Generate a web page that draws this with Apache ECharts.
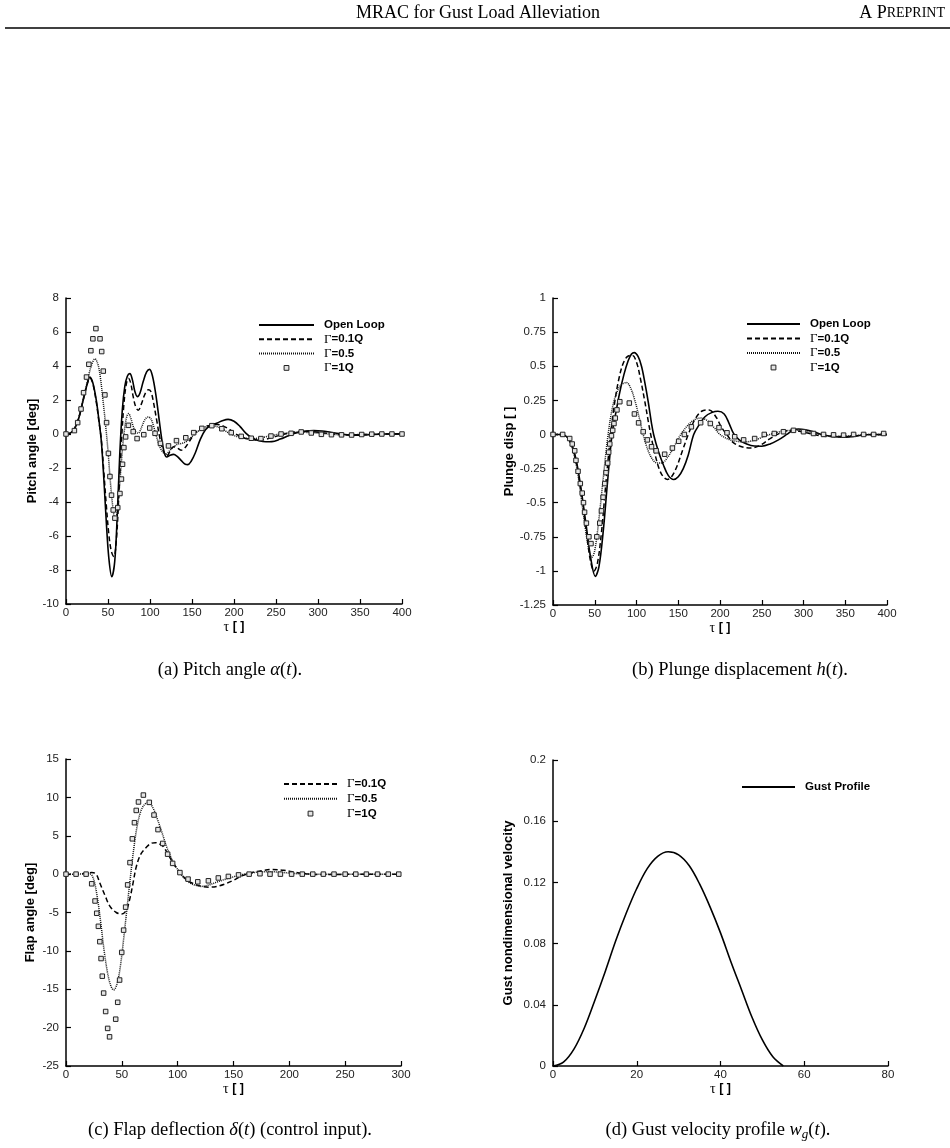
<!DOCTYPE html>
<html><head><meta charset="utf-8">
<script src="https://cdn.jsdelivr.net/npm/echarts@6/dist/echarts.min.js"></script>
<style>html,body{margin:0;padding:0;background:#fff}#c{width:950px;height:1148px}</style>
</head><body><div id="c"></div>
<script>
// ---------- (a) Pitch angle ----------
const pitchOpen = [[0,0],[5,0.05],[10,0.3],[15,0.9],[20,1.9],[25,2.9],[28.5,3.35],[32,3.0],[36,2.0],[39,0.9],[42,-0.4],[45,-2.6],[48,-5.2],[51,-7.3],[54.5,-8.4],[58,-7.5],[61,-4.8],[64,-1.2],[67,1.4],[70,2.8],[73,3.4],[76,3.55],[79,3.2],[82,2.5],[85,2.2],[88,2.4],[92,3.1],[96,3.65],[99.5,3.8],[103,3.4],[107,2.3],[111,0.8],[114,-0.3],[117,-1.1],[120,-1.35],[124,-1.25],[128,-1.2],[132,-1.3],[137,-1.55],[142,-1.78],[145,-1.8],[149,-1.6],[154,-1.1],[160,-0.3],[166,0.25],[172,0.5],[180,0.65],[187,0.8],[193,0.86],[200,0.75],[207,0.45],[214,0.05],[222,-0.25],[230,-0.4],[238,-0.46],[245,-0.45],[255,-0.3],[265,-0.1],[275,0.08],[285,0.17],[295,0.2],[305,0.18],[315,0.1],[325,0.02],[335,-0.05],[345,-0.07],[355,-0.06],[365,-0.03],[380,0],[400,0.01]];
const pitchG01 = [[0,0],[5,0.05],[10,0.3],[15,0.9],[20,1.9],[25,2.9],[28.5,3.3],[32,2.95],[36,1.9],[39,0.8],[42,-0.3],[45,-2.2],[48,-4.2],[51,-5.9],[54,-6.9],[57,-7.2],[60,-6.2],[63,-3.5],[66,-0.5],[69,1.8],[72,3.0],[74.5,3.27],[77,3.0],[80,2.2],[83,1.6],[86,1.4],[90,1.8],[94,2.35],[98,2.6],[101,2.5],[104,1.9],[108,0.8],[112,-0.3],[116,-1.0],[120,-1.3],[124,-1.0],[128,-0.75],[132,-0.8],[137,-0.95],[141,-0.85],[146,-0.5],[152,-0.05],[158,0.25],[165,0.42],[172,0.52],[180,0.56],[188,0.45],[195,0.25],[202,0],[210,-0.2],[218,-0.3],[228,-0.35],[238,-0.3],[248,-0.17],[258,-0.03],[270,0.1],[282,0.15],[292,0.14],[305,0.07],[318,0],[330,-0.05],[345,-0.05],[360,-0.02],[380,0],[400,0]];
const pitchG05 = [[0,0],[5,0.05],[10,0.3],[15,0.95],[20,1.95],[25,3.0],[30,4.0],[34.5,4.42],[38,4.1],[41,3.3],[44,2.0],[47,0.6],[50,-1.0],[53,-2.9],[56,-4.4],[58.5,-5.06],[61,-4.6],[64,-2.9],[67,-1.0],[70,0.4],[72.5,1.05],[74.5,1.2],[77,0.95],[80,0.45],[83,0.12],[86,0.05],[90,0.4],[94,0.85],[98,1.0],[101,0.9],[104,0.5],[108,-0.2],[112,-0.8],[116,-1.1],[119,-1.2],[123,-1.0],[128,-0.75],[133,-0.6],[138,-0.55],[143,-0.45],[150,-0.15],[157,0.15],[164,0.38],[170,0.47],[178,0.45],[186,0.3],[194,0.05],[202,-0.12],[212,-0.23],[222,-0.27],[232,-0.22],[242,-0.12],[255,0],[268,0.08],[280,0.1],[292,0.08],[305,0.03],[320,-0.03],[335,-0.05],[350,-0.03],[370,0],[400,0]];
const pitchG1 = [[0,0],[10,0.2],[13.9,0.67],[17.9,1.47],[20.9,2.43],[24.4,3.35],[27.2,4.1],[29.6,4.9],[32,5.6],[35.6,6.2],[40.5,5.6],[42.5,4.85],[44.4,3.7],[46.3,2.3],[48.3,0.67],[50.5,-1.14],[52.3,-2.5],[54.2,-3.6],[56.2,-4.47],[58.2,-4.95],[61.6,-4.33],[64.2,-3.5],[66,-2.65],[67.3,-1.78],[68.9,-0.8],[71,-0.17],[74.3,0.51],[80,0.14],[84.6,-0.27],[92.6,-0.04],[99.7,0.35],[106,0.04],[112.4,-0.55],[122,-0.7],[131.5,-0.39],[142.6,-0.22],[152,0.08],[161.7,0.33],[173.6,0.49],[185.5,0.31],[196.7,0.08],[208.6,-0.14],[220.5,-0.25],[232,-0.27],[244,-0.12],[256,0],[268,0.04],[280,0.12],[292,0.06],[304,-0.02],[316,-0.04],[328,-0.05],[340,-0.06],[352,-0.03],[364,-0.01],[376,0],[388,0],[400,0]];

// ---------- (b) Plunge displacement ----------
const plungeOpen = [[0,0],[10,0],[15,-0.01],[20,-0.04],[25,-0.12],[30,-0.26],[35,-0.46],[40,-0.68],[45,-0.9],[50.7,-1.04],[55,-0.97],[60,-0.72],[65,-0.37],[70.7,0],[75,0.15],[80,0.31],[85,0.44],[90,0.54],[94,0.59],[97.4,0.6],[102,0.57],[106,0.5],[110,0.38],[114,0.24],[118,0.08],[120.5,0],[126,-0.12],[132,-0.22],[138,-0.3],[144.5,-0.33],[150,-0.31],[156,-0.25],[162,-0.15],[168.5,0],[175,0.07],[182,0.13],[190,0.16],[197.6,0.17],[205,0.15],[211,0.08],[216,0.01],[223,-0.04],[232,-0.07],[241,-0.085],[250,-0.086],[260,-0.07],[270,-0.04],[280,0],[287,0.03],[294,0.04],[302,0.035],[312,0.02],[322,0],[335,-0.015],[350,-0.02],[365,-0.01],[380,0],[400,0]];
const plungeG01 = [[0,0],[10,0],[15,-0.01],[20,-0.05],[25,-0.13],[30,-0.28],[35,-0.48],[40,-0.72],[45,-0.93],[49,-1.0],[53,-0.95],[58,-0.72],[63,-0.38],[69,0],[74,0.24],[79,0.41],[84,0.52],[89,0.57],[95,0.58],[100,0.53],[105,0.4],[110,0.24],[114,0.1],[117,0],[122,-0.14],[127,-0.25],[132,-0.31],[137,-0.33],[142,-0.31],[148,-0.24],[155,-0.12],[162,0],[170,0.11],[178,0.17],[187,0.18],[195,0.13],[202,0.05],[208,0],[216,-0.06],[226,-0.09],[237,-0.1],[248,-0.08],[260,-0.03],[272,0.01],[285,0.03],[298,0.02],[312,0],[330,-0.015],[350,-0.015],[370,-0.005],[400,0]];
const plungeG05 = [[0,0],[10,0],[15,-0.01],[20,-0.05],[25,-0.14],[30,-0.3],[35,-0.52],[40,-0.74],[44,-0.87],[46.5,-0.9],[50,-0.85],[55,-0.62],[60,-0.33],[66,0],[72,0.22],[78,0.33],[83,0.37],[88,0.38],[93,0.34],[98,0.25],[103,0.13],[108,0],[114,-0.12],[120,-0.19],[125,-0.21],[130,-0.21],[137,-0.17],[144,-0.1],[153,0],[162,0.07],[170,0.11],[177,0.12],[185,0.1],[193,0.05],[200,0],[210,-0.035],[220,-0.05],[230,-0.055],[242,-0.04],[255,-0.01],[268,0.015],[280,0.028],[292,0.03],[305,0.02],[320,0],[340,-0.015],[360,-0.01],[380,0],[400,0]];
const plungeG1 = [[0,0],[11.6,0],[20,-0.03],[23,-0.07],[26,-0.12],[27.5,-0.19],[30,-0.27],[32.7,-0.36],[35,-0.43],[36.5,-0.5],[37.8,-0.57],[40,-0.65],[43,-0.75],[45.5,-0.8],[52.5,-0.75],[56,-0.65],[58,-0.56],[60,-0.46],[62,-0.36],[63.5,-0.28],[65.5,-0.21],[66.7,-0.13],[68,-0.07],[70,-0.01],[71.5,0.03],[73,0.08],[74.6,0.12],[76.6,0.18],[80,0.24],[91.4,0.23],[97.5,0.15],[102.5,0.085],[108,0.02],[113,-0.04],[118,-0.09],[123.5,-0.12],[133.7,-0.145],[143,-0.1],[150.5,-0.05],[157.3,0],[165.7,0.056],[176.8,0.086],[188.4,0.08],[198.8,0.05],[208.4,0.012],[217.6,-0.017],[228.3,-0.04],[241.5,-0.03],[253,0],[265,0.007],[276,0.02],[288,0.03],[300,0.02],[312,0.007],[324,0],[336,-0.003],[348,-0.005],[360,0],[372,0],[384,0],[396,0.007]];

// ---------- (c) Flap deflection ----------
const flapG01 = [[0,0],[10,0],[18,0.1],[23,0.2],[27,0],[30.4,-1.2],[35,-2.8],[39.4,-4.2],[45,-5.0],[50,-5.2],[54,-4.7],[57,-3.3],[60,-1.2],[63,1.0],[67,2.6],[72,3.5],[76,4.0],[80,4.1],[84,3.9],[87,3.6],[91,2.7],[96,1.4],[101,0.4],[105,-0.3],[110,-0.95],[117,-1.4],[122,-1.6],[128,-1.7],[135,-1.6],[142,-1.3],[150,-0.8],[158,-0.2],[165,0.15],[175,0.45],[185,0.6],[195,0.5],[205,0.25],[215,0.05],[225,-0.05],[240,-0.05],[260,0],[280,0],[300,0]];
const flapG05 = [[0,0],[10,0],[18,0.05],[22,0],[25,-0.8],[28,-3.0],[31,-6.2],[34,-9.8],[37,-12.7],[40,-14.5],[42.7,-15.1],[45.5,-14.4],[48.5,-12.2],[51.5,-8.6],[54.5,-4.6],[57.5,-0.6],[60.5,3.1],[63.5,6.1],[67,8.2],[70.5,9.1],[74,9.3],[78,8.6],[82,7.1],[86,5.4],[90,3.6],[95,1.9],[100,0.6],[104,-0.2],[108,-0.85],[113,-1.3],[117,-1.5],[121,-1.6],[127,-1.45],[134,-1.1],[142,-0.7],[150,-0.35],[158,-0.05],[166,0.15],[175,0.3],[185,0.3],[195,0.2],[205,0.08],[215,0],[230,-0.03],[250,0],[300,0]];
const flapG1 = [[0,0],[9,0],[18,0],[23,-1.26],[26,-3.5],[27.5,-5.1],[29,-6.8],[30.3,-8.8],[31.4,-11],[32.5,-13.3],[33.7,-15.5],[35.5,-17.9],[37.3,-20.1],[39,-21.2],[44.5,-18.9],[46.3,-16.7],[48,-13.8],[49.9,-10.2],[51.6,-7.3],[53.4,-4.3],[55.2,-1.4],[57.3,1.5],[59.4,4.6],[61.3,6.7],[62.9,8.3],[64.9,9.4],[69.3,10.3],[74.6,9.35],[78.8,7.7],[82.4,5.8],[86.6,4.0],[91,2.6],[95.5,1.4],[102,0.2],[109.3,-0.65],[118,-1.0],[127.5,-0.87],[136.4,-0.5],[145.4,-0.3],[154.5,-0.1],[164,0],[173.7,0.05],[182.7,0],[192,0],[202,0],[211.6,0],[221,0],[230.5,0],[240,0],[250,0],[259.5,0],[269,0],[279,0],[288.6,0],[298,0]];

// ---------- (d) Gust profile ----------
const gust = [[0,0],[2.5,0.0025],[5,0.011],[7.5,0.025],[10,0.043],[12.5,0.062],[15,0.082],[17.5,0.1],[20,0.116],[22.5,0.129],[25,0.137],[27.5,0.14],[30,0.138],[32.5,0.131],[35,0.119],[37.5,0.104],[40,0.087],[42.5,0.068],[45,0.05],[47.5,0.032],[50,0.017],[52.5,0.006],[55,0]];

// ---------- labels ----------
const names = {open:'Open Loop', g01:'Γ=0.1Q', g05:'Γ=0.5', g1:'Γ=1Q', gust:'Gust Profile'};
const yTitles = ['Pitch angle [deg]','Plunge disp [ ]','Flap angle [deg]','Gust nondimensional velocity'];
const xTitle = '{t|τ}{b| [ ]}';
const captions = [
  '{n|(a) Pitch angle }{i|α}{n|(}{i|t}{n|).}',
  '{n|(b) Plunge displacement }{i|h}{n|(}{i|t}{n|).}',
  '{n|(c) Flap deflection }{i|δ}{n|(}{i|t}{n|) (control input).}',
  '{n|(d) Gust velocity profile }{i|w}{s|g}{n|(}{i|t}{n|).}'
];
const headerTitle = 'MRAC for Gust Load Alleviation';

const SANS = '"Liberation Sans", Arial, Helvetica, sans-serif';
const SERIF = '"Liberation Serif", "Times New Roman", serif';

const grids = [
  {left:66, top:298, width:336, height:306},
  {left:553, top:298, width:334, height:307},
  {left:66, top:759, width:335, height:307},
  {left:553, top:760, width:335, height:306}
];
const xr = [[0,400,50],[0,400,50],[0,300,50],[0,80,20]];
const yr = [[-10,8,2],[-1.25,1,0.25],[-25,15,5],[0,0.2,0.04]];
const yGaps = [22,30.5,29.5,38];

const xAxes = xr.map((r,i)=>({
  type:'value', gridIndex:i, min:r[0], max:r[1], interval:r[2],
  axisLine:{show:true, onZero:false, lineStyle:{color:'#000', width:1.5}},
  axisTick:{show:true, inside:true, length:5, lineStyle:{color:'#000', width:1.2}},
  splitLine:{show:false},
  axisLabel:{color:'#222', fontSize:11.5, fontFamily:SANS, margin:3},
  name:xTitle, nameLocation:'middle', nameGap:15,
  nameTextStyle:{rich:{t:{fontFamily:SERIF, fontSize:14, color:'#000'}, b:{fontFamily:SANS, fontWeight:'bold', fontSize:12.5, color:'#000'}}}
}));
const yAxes = yr.map((r,i)=>({
  type:'value', gridIndex:i, min:r[0], max:r[1], interval:r[2],
  axisLine:{show:true, onZero:false, lineStyle:{color:'#000', width:1.5}},
  axisTick:{show:true, inside:true, length:5, lineStyle:{color:'#000', width:1.2}},
  splitLine:{show:false},
  axisLabel:{color:'#222', fontSize:11.5, fontFamily:SANS, margin:7,
    formatter: v => String(+v.toFixed(3))},
  name:yTitles[i], nameLocation:'middle', nameGap:yGaps[i],
  nameTextStyle:{fontFamily:SANS, fontWeight:'bold', fontSize:13, color:'#000'}
}));

const ST = {
  solid:{lineStyle:{color:'#000', width:1.6, type:'solid'}},
  dashed:{lineStyle:{color:'#000', width:1.5, type:[5,3]}},
  dotted:{lineStyle:{color:'#111', width:1.5, type:[1,1]}}
};
function curve(name, data, gi, st){
  return {type:'line', name, data, xAxisIndex:gi, yAxisIndex:gi, smooth:0.35,
    symbol:'none', showSymbol:false, color:'#000', lineStyle:ST[st].lineStyle, z:2, silent:true};
}
function squares(name, data, gi){
  return {type:'line', name, data, xAxisIndex:gi, yAxisIndex:gi, symbol:'rect', symbolSize:4.5,
    showSymbol:true, showAllSymbol:true, color:'#000',
    itemStyle:{color:'#e4e4e4', borderColor:'#222', borderWidth:1},
    lineStyle:{width:0, opacity:0}, z:4, silent:true};
}

const series = [
  curve(names.open, pitchOpen, 0, 'solid'),
  curve(names.g01, pitchG01, 0, 'dashed'),
  curve(names.g05, pitchG05, 0, 'dotted'),
  squares(names.g1, pitchG1, 0),
  curve(names.open, plungeOpen, 1, 'solid'),
  curve(names.g01, plungeG01, 1, 'dashed'),
  curve(names.g05, plungeG05, 1, 'dotted'),
  squares(names.g1, plungeG1, 1),
  curve(names.g01, flapG01, 2, 'dashed'),
  curve(names.g05, flapG05, 2, 'dotted'),
  squares(names.g1, flapG1, 2),
  curve(names.gust, gust, 3, 'solid')
];

const legendRich = {
  g:{fontFamily:SERIF, fontSize:13, color:'#000', lineHeight:14, padding:[0,0,0,5]},
  b0:{fontFamily:SANS, fontWeight:'bold', fontSize:11.5, color:'#000', lineHeight:14, padding:[0,0,0,5]},
  b:{fontFamily:SANS, fontWeight:'bold', fontSize:11.5, color:'#000', lineHeight:14}
};
function legendFmt(n){ return n.charAt(0)==='Γ' ? '{g|Γ}{b|'+n.slice(1)+'}' : '{b0|'+n+'}'; }
function legendItem(n){
  return n === names.g1
    ? {name:n, itemStyle:{color:'#e4e4e4', borderColor:'#222', borderWidth:1}}
    : {name:n, itemStyle:{opacity:0}};
}
function legend(list, left, top, w, gap){
  return {data:list.map(legendItem), left, top, orient:'vertical', itemWidth:w, itemHeight:6, itemGap:gap, padding:0,
    selectedMode:false, formatter:legendFmt, textStyle:{rich:legendRich, lineHeight:14}};
}

const capRich = {
  n:{fontFamily:SERIF, fontSize:18.5, color:'#000', lineHeight:22},
  i:{fontFamily:SERIF, fontStyle:'italic', fontSize:18.5, color:'#000', lineHeight:22},
  s:{fontFamily:SERIF, fontStyle:'italic', fontSize:13, color:'#000', lineHeight:15, verticalAlign:'bottom'}
};

const option = {
  animation:false,
  backgroundColor:'#fff',
  grid:grids,
  xAxis:xAxes,
  yAxis:yAxes,
  legend:[
    legend([names.open, names.g01, names.g05, names.g1], 258, 318, 55, 0.3),
    legend([names.open, names.g01, names.g05, names.g1], 746, 317, 53, 0.5),
    legend([names.g01, names.g05, names.g1], 283, 777, 53, 0.8),
    legend([names.gust], 741, 780, 53, 0.3)
  ],
  series,
  graphic:[
    {type:'text', x:478, y:13, style:{text:headerTitle, font:'18px '+SERIF, fill:'#000', align:'center', verticalAlign:'middle'}},
    {type:'text', x:945, y:13, style:{text:'{a|A P}{b|REPRINT}', align:'right', verticalAlign:'middle',
      rich:{a:{fontFamily:SERIF, fontSize:18, color:'#000'}, b:{fontFamily:SERIF, fontSize:14, color:'#000'}}}},
    {type:'line', shape:{x1:5, y1:28, x2:950, y2:28}, style:{stroke:'#000', lineWidth:1.6}},
    {type:'text', x:230, y:670, style:{text:captions[0], align:'center', verticalAlign:'middle', rich:capRich}},
    {type:'text', x:740, y:670, style:{text:captions[1], align:'center', verticalAlign:'middle', rich:capRich}},
    {type:'text', x:230, y:1130, style:{text:captions[2], align:'center', verticalAlign:'middle', rich:capRich}},
    {type:'text', x:718, y:1130, style:{text:captions[3], align:'center', verticalAlign:'middle', rich:capRich}}
  ]
};
const chart = echarts.init(document.getElementById('c'), null, {renderer:'canvas'});
chart.setOption(option);
</script></body></html>
